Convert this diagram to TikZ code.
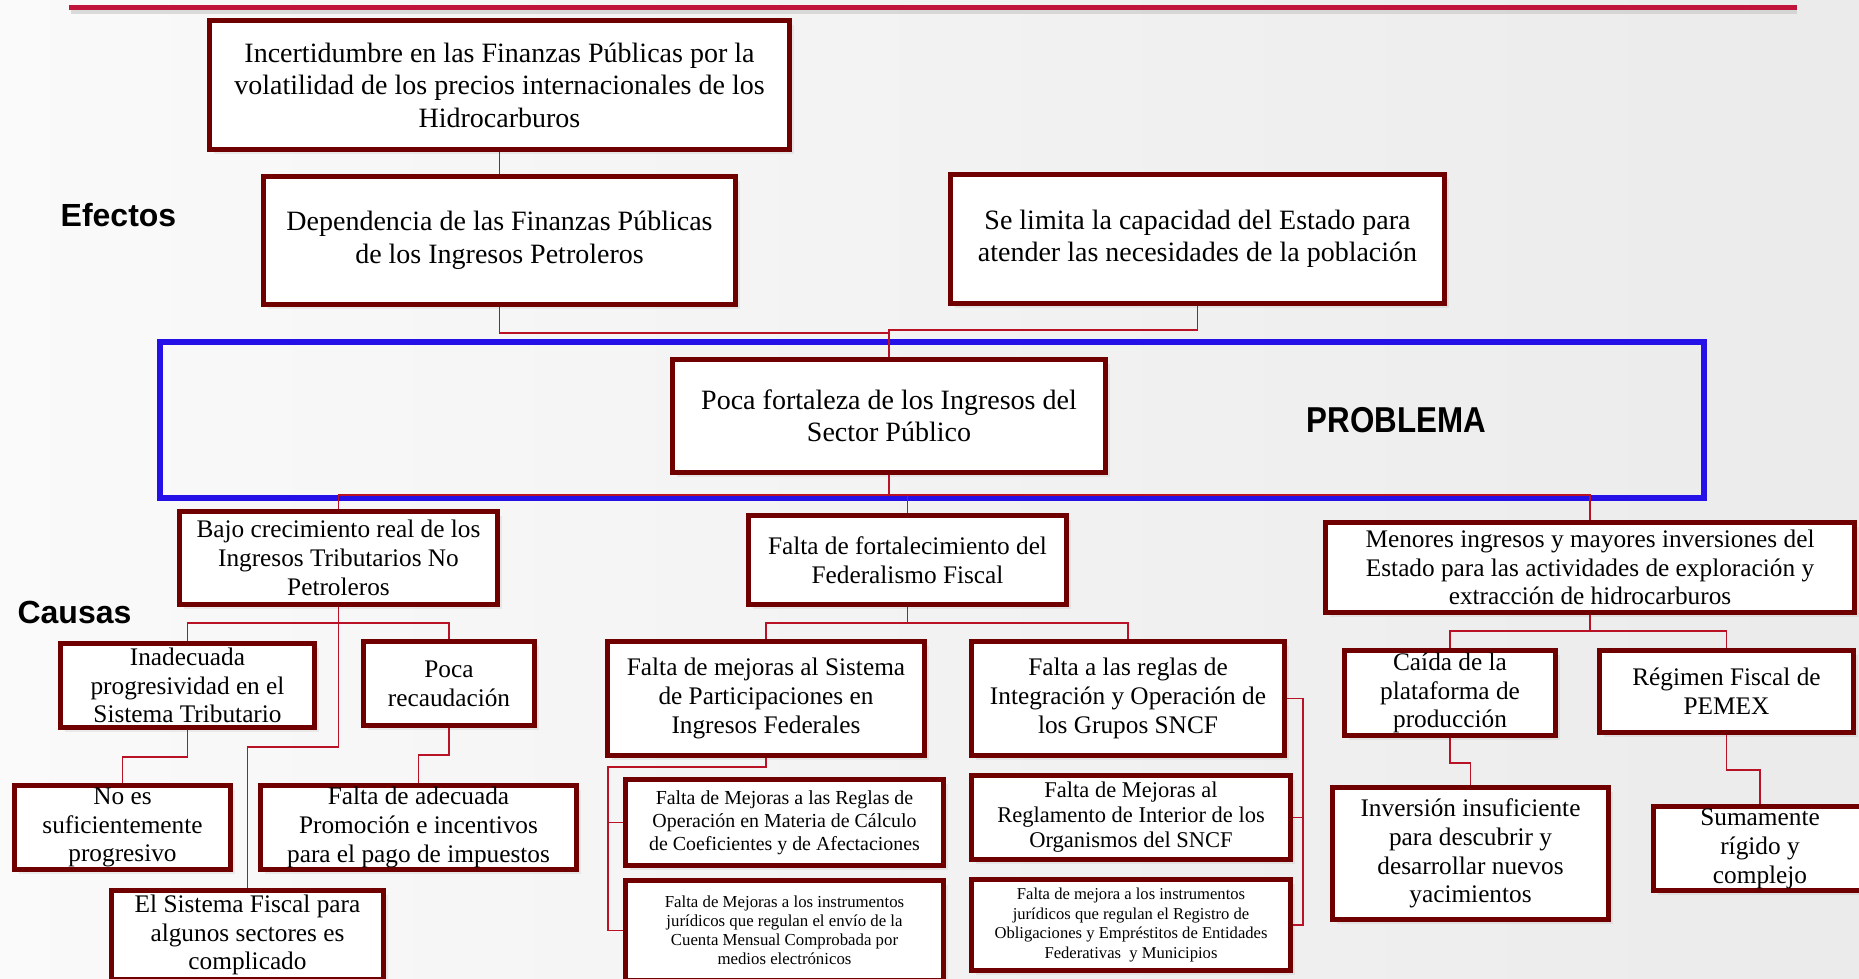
\documentclass[tikz,border=0pt]{standalone}
\usepackage{fontspec}
\setmainfont{Liberation Serif}
\setsansfont{Liberation Sans}
\usepackage{graphicx}
\usetikzlibrary{shadows}
\definecolor{boxred}{RGB}{112,0,0}
\definecolor{linkred}{RGB}{185,18,38}
\definecolor{topred}{RGB}{192,20,60}
\definecolor{probblue}{RGB}{38,16,232}
\tikzset{
  box/.style={draw=boxred, line width=5pt, fill=white, inner sep=0pt, align=center,
    drop shadow={opacity=0.12, shadow xshift=4pt, shadow yshift=-4pt}},
  conn/.style={draw=linkred, line width=1.5pt},
  fA/.style={font=\fontsize{28}{32.5}\selectfont},
  fB/.style={font=\fontsize{25.3}{28.8}\selectfont},
  fN/.style={font=\fontsize{19.9}{23}\selectfont},
  fO/.style={font=\fontsize{16.8}{19}\selectfont},
  fR/.style={font=\fontsize{22.5}{25}\selectfont},
  fQ/.style={font=\fontsize{16.6}{19.5}\selectfont},
  lab/.style={font=\sffamily\bfseries\fontsize{32}{36}\selectfont}
}
\begin{document}
\begin{tikzpicture}[x=1pt,y=-1pt]
\useasboundingbox (0,0) rectangle (1859,978);
\clip (0,0) rectangle (1859,978);
\fill[left color=white!98!black, right color=white!92!black] (0,0) rectangle (1859,978);
% top bar
\draw[gray!45, line width=4pt, opacity=0.6] (71,12) -- (1797,12);
\draw[topred, line width=5pt] (69,7) -- (1797,7);

% problem frame
\draw[probblue, line width=5.5pt] (160,342) rectangle (1704,498);

% effects
\node[box, fA, minimum width=580pt, minimum height=129pt] (A) at (499.5,85)
  {Incertidumbre en las Finanzas Públicas por la\\volatilidad de los precios internacionales de los\\Hidrocarburos};
\node[box, fA, minimum width=472pt, minimum height=128pt] (B) at (499.5,240.5)
  {Dependencia de las Finanzas Públicas\\de los Ingresos Petroleros};
\node[box, fA, minimum width=494pt, minimum height=129pt] (C) at (1197.5,239)
  {Se limita la capacidad del Estado para\\atender las necesidades de la población};
\node[box, fA, minimum width=433pt, minimum height=113pt] (P) at (889,416)
  {Poca fortaleza de los Ingresos del\\Sector Público};

\node[lab] (ef) at (118.5,215) {Efectos};
\node[lab] (ca) at (74.5,612) {Causas};
\node[font=\sffamily\bfseries\fontsize{36}{40}\selectfont] (pr) at (1396.5,420) {\scalebox{0.87}[1]{PROBLEMA}};

% causes level 1
\node[box, fB, minimum width=318pt, minimum height=93pt] (D) at (338.5,558)
  {Bajo crecimiento real de los\\Ingresos Tributarios No\\Petroleros};
\node[box, fB, minimum width=318pt, minimum height=89pt] (E) at (907.5,560)
  {Falta de fortalecimiento del\\Federalismo Fiscal};
\node[box, fB, minimum width=529pt, minimum height=90pt] (F) at (1590,567.5)
  {Menores ingresos y mayores inversiones del\\Estado para las actividades de exploración y\\extracción de hidrocarburos};

% under D
\node[box, fB, minimum width=254pt, minimum height=84pt] (G) at (187.5,685.5)
  {Inadecuada\\progresividad en el\\Sistema Tributario};
\node[box, fB, minimum width=171pt, minimum height=84pt] (H) at (449,683.5)
  {Poca\\recaudación};
\node[box, fB, minimum width=216pt, minimum height=84pt] (I) at (122.5,827.5)
  {No es\\suficientemente\\progresivo};
\node[box, fB, minimum width=316pt, minimum height=84pt] (J) at (418.5,827.5)
  {Falta de adecuada\\Promoción e incentivos\\para el pago de impuestos};
\node[box, fB, minimum width=272pt, minimum height=89pt] (K) at (247.5,935)
  {El Sistema Fiscal para\\algunos sectores es\\complicado};

% under E
\node[box, fB, minimum width=317pt, minimum height=114pt] (L) at (766,698.5)
  {Falta de mejoras al Sistema\\de Participaciones en\\Ingresos Federales};
\node[box, fB, minimum width=313pt, minimum height=114pt] (M) at (1128,698.5)
  {Falta a las reglas de\\Integración y Operación de\\los Grupos SNCF};
\node[box, fN, minimum width=318pt, minimum height=86pt] (N) at (784.5,822.5)
  {Falta de Mejoras a las Reglas de\\Operación en Materia de Cálculo\\de Coeficientes y de Afectaciones};
\node[box, fO, minimum width=318pt, minimum height=100pt] (O) at (784.5,930.5)
  {Falta de Mejoras a los instrumentos\\jurídicos que regulan el envío de la\\Cuenta Mensual Comprobada por\\medios electrónicos};
\node[box, fR, minimum width=319pt, minimum height=84pt] (Rg) at (1131,817.5)
  {Falta de Mejoras al\\Reglamento de Interior de los\\Organismos del SNCF};
\node[box, fQ, minimum width=319pt, minimum height=91pt] (Q) at (1131,925)
  {Falta de mejora a los instrumentos\\jurídicos que regulan el Registro de\\Obligaciones y Empréstitos de Entidades\\Federativas \ y Municipios};

% under F
\node[box, fB, minimum width=211pt, minimum height=85pt] (R) at (1450,693)
  {Caída de la\\plataforma de\\producción};
\node[box, fB, minimum width=254pt, minimum height=82pt] (S) at (1726.5,691.5)
  {Régimen Fiscal de\\PEMEX};
\node[box, fB, minimum width=276pt, minimum height=132pt] (T) at (1470.5,853.5)
  {Inversión insuficiente\\para descubrir y\\desarrollar nuevos\\yacimientos};
\node[box, fB, minimum width=213pt, minimum height=84pt] (U) at (1760,848.5)
  {Sumamente\\rígido y\\complejo};

% connectors
\draw[conn] (A.south) -- (B.north);
\draw[conn] (B.south) -- ++(0,26) -| (P.north);
\draw[conn] (C.south) -- ++(0,24) -| (P.north);
\draw[conn] (P.south) -- ++(0,20) -| (D.north);
\draw[conn] (P.south) -- ++(0,20) -| (E.north);
\draw[conn] (P.south) -- ++(0,20) -| (F.north);
\draw[conn] (D.south) -- ++(0,16) -| (G.north);
\draw[conn] (D.south) -- ++(0,16) -| (H.north);
\draw[conn] (D.south) -- ++(0,140) -| (K.north);
\draw[conn] (G.south) -- ++(0,27) -| (I.north);
\draw[conn] (H.south) -- ++(0,27) -| (J.north);
\draw[conn] (E.south) -- ++(0,16) -| (L.north);
\draw[conn] (E.south) -- ++(0,16) -| (M.north);
\draw[conn] (L.south) -- ++(0,9) -| ([xshift=-15pt]N.west) -- (N.west);
\draw[conn] ([xshift=-15pt]N.west) |- (O.west);
\draw[conn] (M.east) -- ++(16,0) coordinate (mr) |- (Q.east);
\draw[conn] (mr) |- (Rg.east);
\draw[conn] (F.south) -- ++(0,16) -| (R.north);
\draw[conn] (F.south) -- ++(0,16) -| (S.north);
\draw[conn] (R.south) -- ++(0,25) -| (T.north);
\draw[conn] (S.south) -- ++(0,35) -| (U.north);
\end{tikzpicture}
\end{document}
